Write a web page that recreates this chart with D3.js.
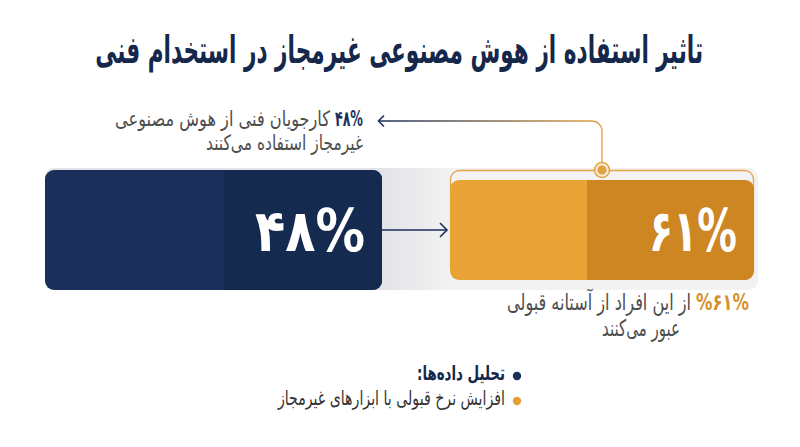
<!DOCTYPE html>
<html lang="fa">
<head>
<meta charset="utf-8">
<script src="https://cdn.jsdelivr.net/npm/d3@7"></script>
<style>
  html, body { margin: 0; padding: 0; background: #ffffff; }
  svg { display: block; }
</style>
</head>
<body>
<script>
// ---------- data ----------
const title = "تاثیر استفاده از هوش مصنوعی غیرمجاز در استخدام فنی";
const categories = ["استفاده از هوش مصنوعی غیرمجاز", "عبور از آستانه قبولی"];
const values = [48, 61];
const annotationTop = ["کارجویان فنی از هوش مصنوعی", "غیرمجاز استفاده می‌کنند"];
const annotationBottom = ["از این افراد از آستانه قبولی", "عبور می‌کنند"];
const legendLabels = ["تحلیل داده‌ها:", "افزایش نرخ قبولی با ابزارهای غیرمجاز"];

// ---------- helpers ----------
const FONT = "'DejaVu Sans', sans-serif";
const faDigits = s => String(s).replace(/\d/g, d => "۰۱۲۳۴۵۶۷۸۹"[d]);
const pct = v => faDigits(v) + "%";

// fit a text horizontally between left and right (keeps font-size for glyph height)
function place(t, left, right) {
  const b = t.node().getBBox();
  const sx = (right - left) / b.width;
  t.attr("transform", `translate(${left},0) scale(${sx},1) translate(${-b.x},0)`);
  return t;
}

// ---------- colours ----------
const navy = "#1b2f5b", navyDark = "#142a4f";
const orange = "#e8a236", orangeDark = "#cd8622";
const fill = d3.scaleOrdinal().domain(categories).range([navy, orange]);
const fillDark = d3.scaleOrdinal().domain(categories).range([navyDark, orangeDark]);

// ---------- layout scales ----------
const xBox = d3.scaleOrdinal().domain(categories).range([[45, 382], [450, 754]]);
const yBox = d3.scaleOrdinal().domain(categories).range([[170, 290], [180, 280]]);
const darkFrom = d3.scaleOrdinal().domain(categories).range([224, 587]);

const svg = d3.select("body").append("svg")
  .attr("width", 800).attr("height", 447)
  .attr("font-family", FONT);
const defs = svg.append("defs");

const g1 = defs.append("linearGradient").attr("id", "band")
  .attr("gradientUnits", "userSpaceOnUse").attr("x1", 380).attr("x2", 450).attr("y1", 0).attr("y2", 0);
g1.append("stop").attr("offset", 0).attr("stop-color", "#e2e3e6");
g1.append("stop").attr("offset", 1).attr("stop-color", "#f2f2f3");

const g2 = defs.append("linearGradient").attr("id", "conn")
  .attr("gradientUnits", "userSpaceOnUse").attr("x1", 378).attr("x2", 600).attr("y1", 0).attr("y2", 0);
g2.append("stop").attr("offset", 0).attr("stop-color", navy);
g2.append("stop").attr("offset", 1).attr("stop-color", "#e2a448");

// ---------- title ----------
const tTitle = svg.append("text")
  .attr("x", 0).attr("y", 63)
  .attr("direction", "rtl")
  .attr("font-size", 38).attr("font-weight", "bold")
  .attr("fill", "#15284b")
  .text(title);
place(tTitle, 95, 703);

// ---------- grey band ----------
svg.append("rect")
  .attr("x", 45).attr("y", 168).attr("width", 713).attr("height", 122)
  .attr("rx", 9).attr("fill", "url(#band)");

const cat1 = categories[1];
svg.append("rect")
  .attr("x", xBox(cat1)[0] + 0.5).attr("y", 170.5)
  .attr("width", xBox(cat1)[1] - xBox(cat1)[0] - 1).attr("height", 105)
  .attr("rx", 9).attr("fill", "#f3f3f3")
  .attr("stroke", "#e3a547").attr("stroke-width", 1.3);

// ---------- boxes ----------
categories.forEach((c, i) => {
  const [x0, x1] = xBox(c), [y0, y1] = yBox(c);
  defs.append("clipPath").attr("id", "clip" + i)
    .append("rect").attr("x", x0).attr("y", y0)
    .attr("width", x1 - x0).attr("height", y1 - y0).attr("rx", 9);
  const g = svg.append("g").attr("clip-path", `url(#clip${i})`);
  g.append("rect").attr("x", x0).attr("y", y0)
    .attr("width", x1 - x0).attr("height", y1 - y0).attr("fill", fill(c));
  g.append("rect").attr("x", darkFrom(c)).attr("y", y0)
    .attr("width", x1 - darkFrom(c)).attr("height", y1 - y0).attr("fill", fillDark(c));
});

// big numbers
const bigLeft = [255, 649];
const bigRight = [365, 737];
categories.forEach((c, i) => {
  const t = svg.append("text")
    .attr("x", 0).attr("y", 251)
    .attr("direction", "ltr")
    .attr("font-size", 58).attr("font-weight", "bold")
    .attr("fill", "#ffffff")
    .text(pct(values[i]));
  place(t, bigLeft[i], bigRight[i]);
});

// arrow between boxes
svg.append("line").attr("x1", 382).attr("x2", 446).attr("y1", 230).attr("y2", 230)
  .attr("stroke", navy).attr("stroke-width", 1.6);
svg.append("path").attr("d", "M440,223 L447,230 L440,237")
  .attr("fill", "none").attr("stroke", navy).attr("stroke-width", 1.6);

// connector
const p = d3.path();
p.moveTo(379, 121); p.lineTo(592, 121); p.arcTo(602, 121, 602, 131, 10); p.lineTo(602, 162);
svg.append("path").attr("d", p.toString())
  .attr("fill", "none").attr("stroke", "url(#conn)").attr("stroke-width", 1.4);
svg.append("path").attr("d", "M384,115.5 L378.5,121 L384,126.5")
  .attr("fill", "none").attr("stroke", navy).attr("stroke-width", 1.6);
svg.append("circle").attr("cx", 602).attr("cy", 170).attr("r", 7.5)
  .attr("fill", "#f7ead6").attr("stroke", "#e2a448").attr("stroke-width", 1.5);
svg.append("circle").attr("cx", 602).attr("cy", 170).attr("r", 4.5).attr("fill", "#e3a041");

// ---------- top annotation ----------
const nTop = svg.append("text").attr("x", 0).attr("y", 126)
  .attr("direction", "ltr").attr("font-size", 21).attr("font-weight", "bold")
  .attr("fill", navy).text(pct(values[0]));
place(nTop, 335, 363);
const aT1 = svg.append("text").attr("x", 0).attr("y", 126)
  .attr("direction", "rtl").attr("font-size", 21).attr("fill", "#4d4d4d")
  .text(annotationTop[0]);
place(aT1, 115, 330);
const aT2 = svg.append("text").attr("x", 0).attr("y", 150)
  .attr("direction", "rtl").attr("font-size", 21).attr("fill", "#4d4d4d")
  .text(annotationTop[1]);
place(aT2, 206, 363);

// ---------- bottom annotation ----------
const nBot = svg.append("text").attr("x", 0).attr("y", 310)
  .attr("direction", "ltr").attr("font-size", 23).attr("font-weight", "bold")
  .attr("fill", "#d4922e").text("%" + pct(values[1]));
place(nBot, 696, 749);
const aB1 = svg.append("text").attr("x", 0).attr("y", 310)
  .attr("direction", "rtl").attr("font-size", 23).attr("fill", "#4d4d4d")
  .text(annotationBottom[0]);
place(aB1, 507, 691);
const aB2 = svg.append("text").attr("x", 0).attr("y", 336)
  .attr("direction", "rtl").attr("font-size", 23).attr("fill", "#4d4d4d")
  .text(annotationBottom[1]);
place(aB2, 602, 680);

// ---------- legend ----------
const legColors = [navy, "#e5a035"];
const legY = [380, 405];
const legLeft = [417, 277];
legendLabels.forEach((l, i) => {
  svg.append("circle").attr("cx", 517).attr("cy", legY[i] - 4).attr("r", 4.2).attr("fill", legColors[i]);
  const t = svg.append("text").attr("x", 0).attr("y", legY[i])
    .attr("direction", "rtl").attr("font-size", 20)
    .attr("font-weight", i === 0 ? "bold" : "normal")
    .attr("fill", i === 0 ? "#15284b" : "#333333")
    .text(l);
  place(t, legLeft[i], 505);
});
</script>
</body>
</html>
